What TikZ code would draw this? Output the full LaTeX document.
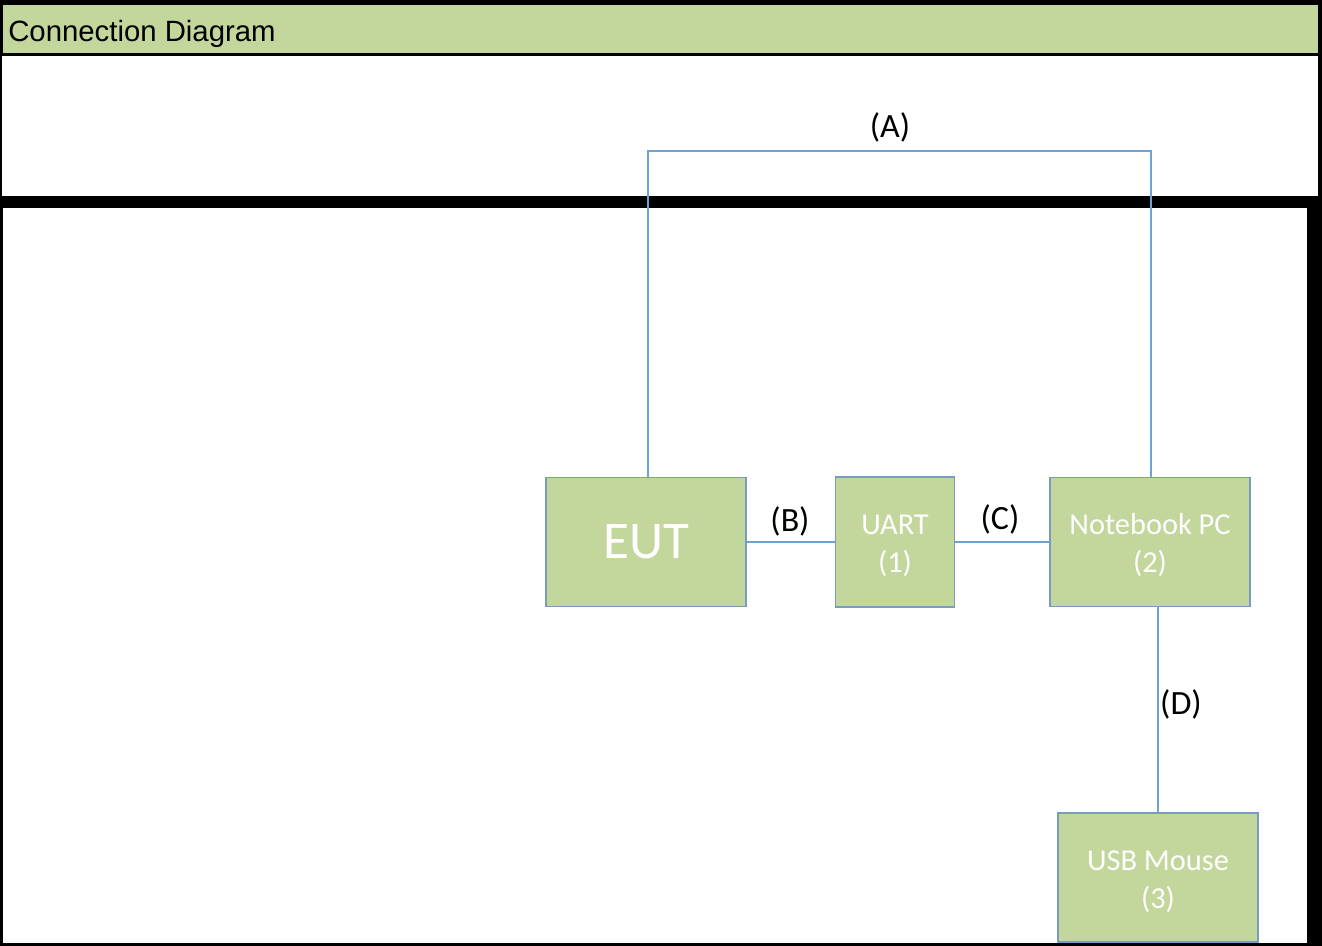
\documentclass[tikz,border=0pt]{standalone}
\usepackage{fontspec}
\setmainfont{Carlito}
\newfontfamily\arialfont{Liberation Sans}
\definecolor{hdrgreen}{HTML}{C3D69B}
\definecolor{boxgreen}{HTML}{C3D69B}
\definecolor{boxedge}{HTML}{7A9BC0}
\definecolor{wire}{HTML}{6FA3D8}
\newcommand{\dropstrut}{\rule{0pt}{20.5pt}}
\begin{document}
\begin{tikzpicture}[x=0.75pt,y=-0.75pt,
  unitbox/.style={draw=boxedge, line width=1.3pt, fill=boxgreen, text=white, rectangle, inner sep=0pt, align=center, font=\fontsize{22.8}{28.5}\selectfont},
  wirestyle/.style={draw=wire, line width=0.9pt},
  wirelabel/.style={font=\fontsize{25.5}{30}\selectfont, text=black, inner sep=0pt}]
\useasboundingbox (0,0) rectangle (1322,946);
% frames
\fill[black] (0,0) rectangle (1322,946);
\fill[hdrgreen] (3,5) rectangle (1318,53);
\fill[white] (2,56) rectangle (1318,196);
\fill[white] (3,208) rectangle (1307,943);
\node[anchor=base west, inner sep=0pt, font=\arialfont\fontsize{22}{26}\selectfont] (title) at (8,41) {Connection Diagram};
% boxes
\node[unitbox, minimum width=200*0.75pt, minimum height=129*0.75pt, font=\fontsize{39.75}{45}\selectfont] (eut) at (646,542) {EUT};
\node[unitbox, minimum width=119*0.75pt, minimum height=130*0.75pt] (uart) at (895,542) {\dropstrut UART\\(1)};
\node[unitbox, minimum width=200*0.75pt, minimum height=129*0.75pt] (pc) at (1150,542) {\dropstrut Notebook PC\\(2)};
\node[unitbox, minimum width=200*0.75pt, minimum height=129*0.75pt] (mouse) at (1158,877.5) {\dropstrut USB Mouse\\(3)};
% connectors
\coordinate (atop) at (900,151);
\draw[wirestyle] ([xshift=1.5pt]eut.north) |- (atop) -| ([xshift=0.75pt]pc.north);
\draw[wirestyle] (eut.east) -- (uart.west);
\draw[wirestyle] (uart.east) -- (pc.west);
\draw[wirestyle] (mouse.north) -- (mouse.north |- pc.south);
% labels
\node[wirelabel] (la) at (890,127) {(A)};
\node[wirelabel] (lb) at (790,521) {(B)};
\node[wirelabel] (lc) at (1000,519) {(C)};
\node[wirelabel] (ld) at (1181,704) {(D)};
\end{tikzpicture}
\end{document}
